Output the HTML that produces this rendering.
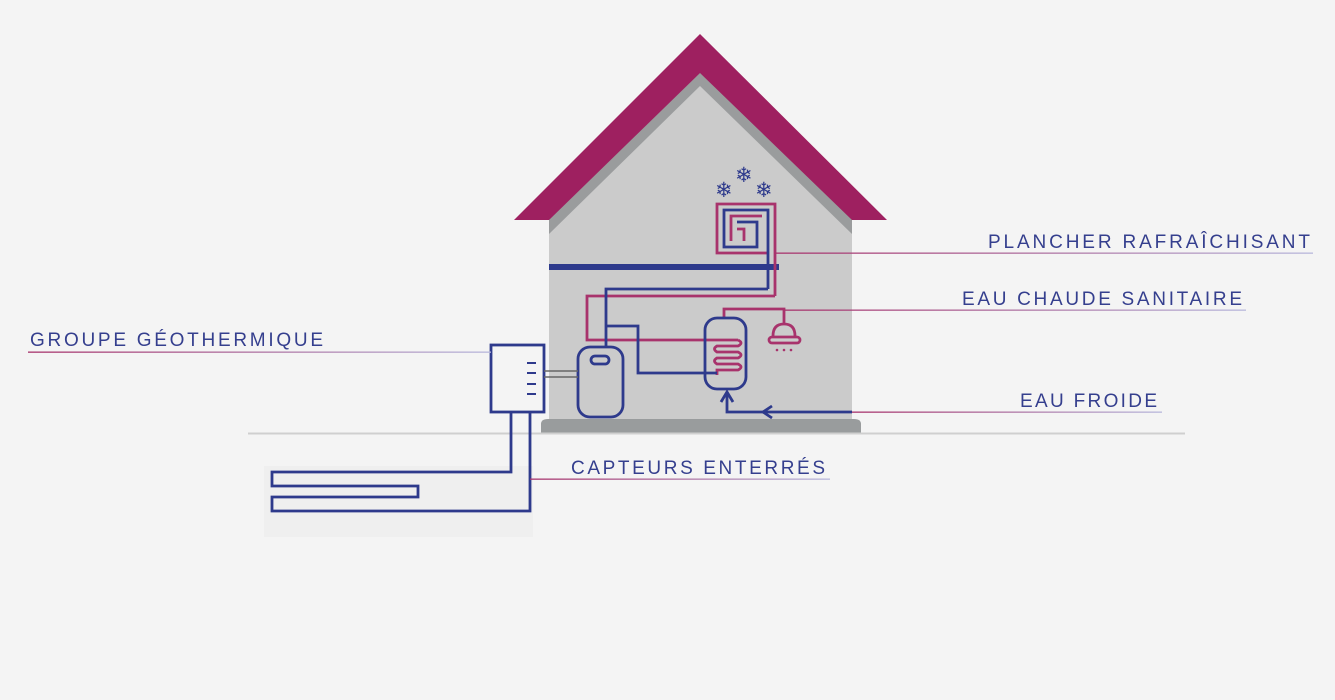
<!DOCTYPE html>
<html><head><meta charset="utf-8"><style>
html,body{margin:0;padding:0;background:#f4f4f4;}
svg{display:block}
text{font-family:"Liberation Sans",sans-serif;font-size:19px;fill:#353f8e;}
</style></head><body>
<svg width="1335" height="700" viewBox="0 0 1335 700" xmlns="http://www.w3.org/2000/svg">
<defs>
<linearGradient id="g1" x1="0" x2="1"><stop offset="0" stop-color="#a8336c"/><stop offset="1" stop-color="#b8b8dc"/></linearGradient>
</defs>
<rect width="1335" height="700" fill="#f4f4f4"/>
<polygon points="700,34 887,220 514,220" fill="#9e2060"/>
<polygon points="700,73 852,220 852,240 549,240 549,220" fill="#9a9c9d"/>
<polygon points="700,86 852,234 852,420 549,420 549,234" fill="#cbcbcb"/>
<path d="M541,433 V424 Q541,419 548,419 H854 Q861,419 861,424 V433 Z" fill="#999c9d"/>
<line x1="248" y1="433.5" x2="1185" y2="433.5" stroke="#cfcfcf" stroke-width="2"/>
<rect x="264" y="466" width="269" height="71" fill="#efefef"/>
<rect x="549" y="264" width="230" height="6" fill="#2e3a8c"/>
<g fill="none" stroke-width="2.8">
<path d="M775,296 V204 H717 V253 H768" stroke="#a8336c"/>
<path d="M768,289 V210 H724 V247 H757 V222 H737" stroke="#2e3a8c"/>
<path d="M744,241 V229 H737" stroke="#a8336c"/>
<path d="M731,241 V216 H762" stroke="#a8336c"/>
<path d="M775,296 H587 V340 H738" stroke="#a8336c"/>
<path d="M738,340 Q744,343 738,346 H717 Q712,349 717,352 H738 Q744,355 738,358 H717 Q712,361 717,364 H738 Q744,367 738,370 H717 V375" stroke="#a8336c"/>
<path d="M768,289 H606 V347" stroke="#2e3a8c"/>
<path d="M606,326 H638 V373 H717" stroke="#2e3a8c"/>
<path d="M724,318 V309 H784 V323" stroke="#a8336c"/>
<path d="M773,336 Q773,324 784,324 Q795,324 795,336" stroke="#a8336c"/>
<rect x="769" y="337" width="31" height="6" rx="3" stroke="#a8336c"/>
<rect x="578" y="347" width="45" height="70" rx="12" stroke="#2e3a8c"/>
<rect x="591" y="356" width="18" height="8" rx="4" stroke="#2e3a8c"/>
<rect x="705" y="318" width="41" height="71" rx="12" stroke="#2e3a8c"/>
<path d="M852,412 H727 V392" stroke="#2e3a8c"/>
<path d="M721,402 L727,392 L733,402" stroke="#2e3a8c"/>
<path d="M772,406 L763,412 L772,418" stroke="#2e3a8c"/>
<rect x="491" y="345" width="53" height="67" stroke="#2e3a8c"/>
<path d="M511,412 V472 H272 V486 H418 V497 H272 V511 H530 V412" stroke="#2e3a8c"/>
</g>
<g fill="#a8336c"><circle cx="777" cy="350" r="1.3"/><circle cx="784" cy="350" r="1.3"/><circle cx="791" cy="350" r="1.3"/></g>
<g stroke="#2e3a8c" stroke-width="2"><line x1="527" y1="363" x2="536" y2="363"/><line x1="527" y1="373" x2="536" y2="373"/><line x1="527" y1="384" x2="536" y2="384"/><line x1="527" y1="394" x2="536" y2="394"/></g>
<g stroke="#666" stroke-width="1.5"><line x1="544" y1="371" x2="578" y2="371"/><line x1="544" y1="377" x2="578" y2="377"/></g>
<text x="715" y="197" style="fill:#2e3a8c;font-size:21px">❄</text><text x="735" y="182" style="fill:#2e3a8c;font-size:21px">❄</text><text x="755" y="197" style="fill:#2e3a8c;font-size:21px">❄</text>
<rect x="775" y="252.5" width="538" height="1.3" fill="url(#g1)"/>
<text x="988" y="248" textLength="322" lengthAdjust="spacing">PLANCHER RAFRAÎCHISANT</text>
<rect x="784" y="309.5" width="462" height="1.3" fill="url(#g1)"/>
<text x="962" y="305" textLength="280" lengthAdjust="spacing">EAU CHAUDE SANITAIRE</text>
<rect x="852" y="411.5" width="310" height="1.3" fill="url(#g1)"/>
<text x="1020" y="407" textLength="137" lengthAdjust="spacing">EAU FROIDE</text>
<rect x="28" y="351.5" width="463" height="1.3" fill="url(#g1)"/>
<text x="30" y="346" textLength="293" lengthAdjust="spacing">GROUPE GÉOTHERMIQUE</text>
<rect x="530" y="478.5" width="300" height="1.3" fill="url(#g1)"/>
<text x="571" y="474" textLength="254" lengthAdjust="spacing">CAPTEURS ENTERRÉS</text>
</svg>
</body></html>
